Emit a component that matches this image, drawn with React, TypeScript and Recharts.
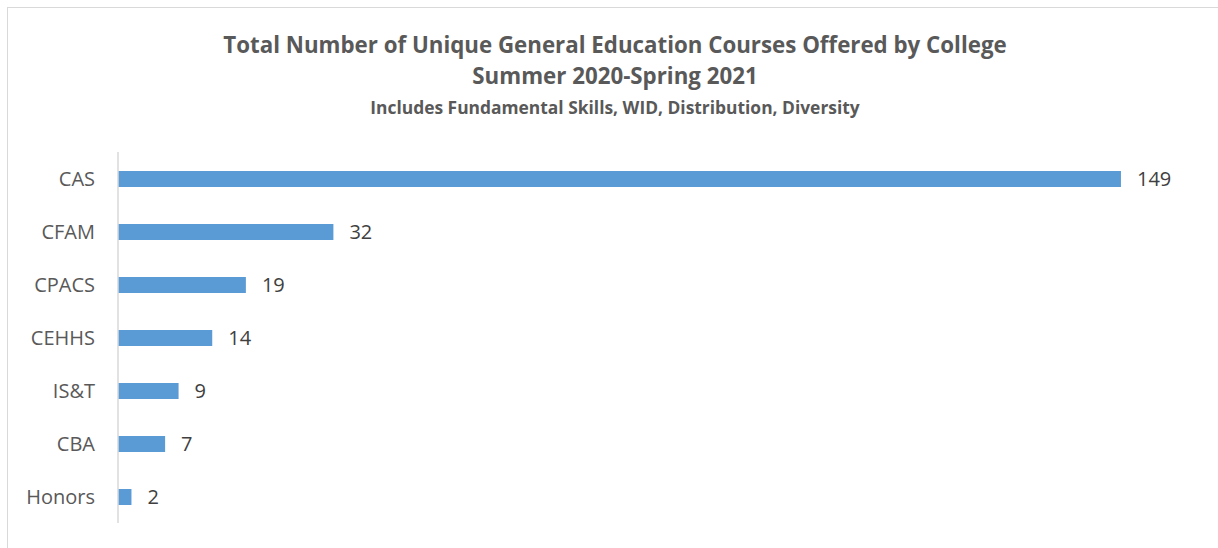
import React from 'react';
import { BarChart, Bar, XAxis, YAxis, LabelList } from 'recharts';

const colleges = ['CAS', 'CFAM', 'CPACS', 'CEHHS', 'IS&T', 'CBA', 'Honors'];
const courseCounts = [149, 32, 19, 14, 9, 7, 2];

const titleLines = [
  'Total Number of Unique General Education Courses Offered by College',
  'Summer 2020-Spring 2021',
];
const subtitle = 'Includes Fundamental Skills, WID, Distribution, Diversity';

const data = colleges.map((college, i) => ({ college, count: courseCounts[i] }));

const font = '"Open Sans", sans-serif';

export default function App() {
  return (
    <div
      style={{
        position: 'absolute',
        left: 7,
        top: 7,
        width: 1230,
        height: 560,
        border: '1px solid #d9d9d9',
        background: '#fff',
        fontFamily: font,
        overflow: 'hidden',
      }}
    >
      <div style={{ position: 'absolute', left: 7, top: 21, width: 1200, textAlign: 'center', color: '#595959' }}>
        <div style={{ fontSize: 22.3, fontWeight: 700, lineHeight: '31px' }}>{titleLines[0]}</div>
        <div style={{ fontSize: 22.3, fontWeight: 700, lineHeight: '32px' }}>{titleLines[1]}</div>
        <div style={{ fontSize: 17.4, fontWeight: 700, lineHeight: '30px' }}>{subtitle}</div>
      </div>
      <div style={{ position: 'absolute', left: 0, top: 0 }}>
        <BarChart
          width={1210}
          height={540}
          data={data}
          layout="vertical"
          margin={{ top: 144, right: 23, bottom: 25, left: 0 }}
          barCategoryGap={0}
        >
          <XAxis type="number" domain={[0, 160]} hide />
          <YAxis
            type="category"
            dataKey="college"
            width={110}
            tickSize={0}
            tickMargin={23}
            axisLine={{ stroke: '#d9d9d9', strokeWidth: 1.5 }}
            tickLine={false}
            tick={{ fill: '#595959', fontSize: 20, fontFamily: font }}
          />
          <Bar dataKey="count" fill="#5b9bd5" barSize={16} isAnimationActive={false}>
            <LabelList
              dataKey="count"
              position="right"
              offset={16}
              fill="#404040"
              fontSize={20}
              fontFamily={font}
            />
          </Bar>
        </BarChart>
      </div>
    </div>
  );
}
